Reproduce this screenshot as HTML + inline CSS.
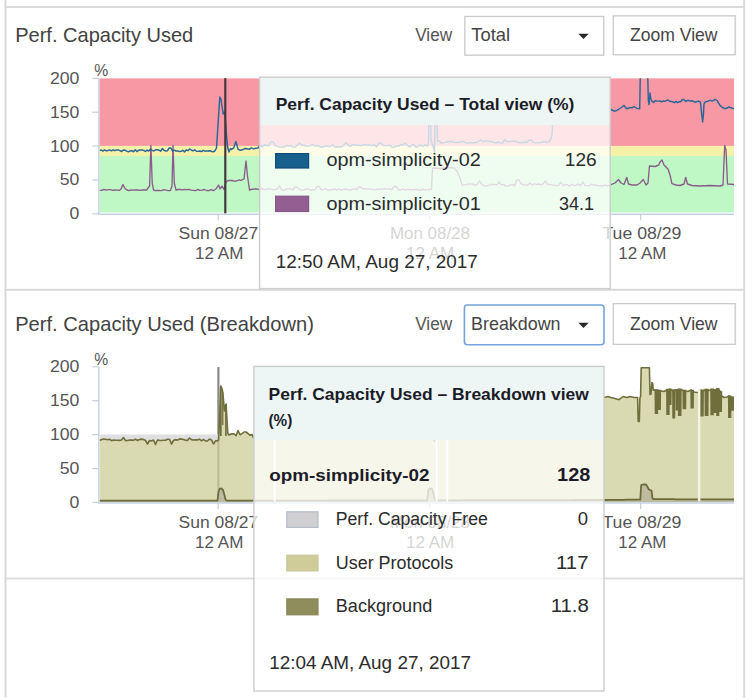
<!DOCTYPE html>
<html><head><meta charset="utf-8"><title>Perf. Capacity Used</title>
<style>
html,body{margin:0;padding:0;background:#fff;width:753px;height:700px;overflow:hidden}
svg{position:absolute;left:0;top:0;display:block}
text{font-family:"Liberation Sans",sans-serif}
</style></head><body>
<svg width="753" height="700" viewBox="0 0 753 700" xmlns="http://www.w3.org/2000/svg">
<rect x="4.50" y="0.00" width="2.00" height="697.50" fill="#dadada"/>
<rect x="743.20" y="0.00" width="2.00" height="698.00" fill="#dadada"/>
<rect x="4.50" y="6.00" width="740.50" height="2.00" fill="#dadada"/>
<rect x="4.50" y="288.80" width="740.50" height="2.00" fill="#dadada"/>
<rect x="4.50" y="577.60" width="740.50" height="1.80" fill="#dadada"/>
<rect x="99.50" y="78.40" width="634.50" height="67.55" fill="#f998a5"/>
<rect x="99.50" y="145.95" width="634.50" height="10.13" fill="#f6f1a8"/>
<rect x="99.50" y="156.08" width="634.50" height="56.32" fill="#bff7c5"/>
<clipPath id="c1"><rect x="99.5" y="78.2" width="634.5" height="136"/></clipPath>
<clipPath id="c2"><rect x="99.5" y="367" width="634.5" height="136"/></clipPath>
<polyline points="99.5,190.1 101.7,190.4 103.9,189.4 106.1,190.1 108.3,189.6 110.5,189.7 112.7,190.4 114.9,190.0 117.1,190.1 119.3,190.4 121.0,189.0 123.0,184.5 125.0,188.5 127.0,190.0 129.0,190.6 131.2,189.9 133.4,190.2 135.6,190.0 137.8,190.0 140.0,190.3 142.2,189.9 144.4,190.0 146.6,190.0 149.6,186.0 150.9,145.5 152.2,183.0 153.5,190.0 155.0,190.6 157.2,190.3 159.4,190.5 161.6,190.6 163.8,189.7 166.0,190.1 168.2,190.6 170.4,190.5 172.0,186.0 173.0,145.5 174.3,183.0 176.0,190.0 178.0,189.5 180.2,189.5 182.4,189.9 184.6,189.4 186.8,189.6 189.0,189.4 191.2,190.2 193.4,190.4 195.6,190.6 197.8,189.5 200.0,190.3 202.2,190.2 204.4,189.5 206.6,190.5 208.8,190.7 211.0,189.6 213.2,190.6 216.0,189.0 218.5,185.0 220.0,189.0 222.0,186.0 224.0,189.5 226.0,182.0 228.0,180.5 230.0,180.4 232.2,180.5 234.4,181.2 236.6,181.0 238.8,180.0 241.0,180.4 244.0,179.0 246.0,161.0 247.5,176.0 249.5,190.0 251.0,189.5 253.2,189.2 255.4,189.0 257.6,189.2 259.8,189.9 262.0,188.6 264.2,189.6 266.4,189.4 268.6,188.6 270.8,189.2 273.0,189.7 275.2,189.5 277.4,188.7 279.6,186.0 281.8,190.0 284.0,190.3 286.2,188.8 288.4,189.1 290.6,188.7 292.8,190.0 295.0,187.0 297.2,187.0 299.4,189.4 301.6,190.2 303.8,190.1 306.0,189.1 308.2,188.9 310.4,190.3 312.6,189.6 314.8,189.9 317.0,186.5 319.2,186.5 321.4,189.8 323.6,189.4 325.8,188.7 328.0,190.3 330.2,189.7 332.4,190.0 334.6,188.8 336.8,190.1 339.0,188.7 341.2,190.2 343.4,189.4 345.6,189.2 347.8,189.6 350.0,190.3 352.2,189.1 354.4,188.8 356.6,189.5 358.8,187.0 361.0,187.0 363.2,188.9 365.4,188.7 367.6,189.0 369.8,189.2 372.0,189.1 374.2,190.0 376.4,189.1 378.6,189.5 380.8,188.9 383.0,189.2 385.2,188.6 387.4,189.1 389.6,188.6 391.8,189.9 394.0,186.5 396.2,186.5 398.4,189.5 400.6,190.3 402.8,188.8 405.0,190.1 407.2,189.4 409.4,189.5 411.6,190.1 413.8,189.3 416.0,189.5 418.2,189.8 420.4,190.4 422.6,189.2 424.8,190.1 427.0,189.9 429.2,189.7 431.5,189.0 432.5,168.0 440.0,168.5 448.0,167.5 454.0,168.0 457.0,171.0 460.0,178.0 462.0,185.0 464.0,184.8 466.2,184.6 468.4,183.9 470.6,184.1 472.8,184.0 475.0,185.6 477.2,184.4 479.4,181.0 481.6,184.0 483.8,185.8 486.0,185.9 488.2,185.4 490.4,184.5 492.6,184.4 494.8,184.5 497.0,184.9 499.2,182.0 501.4,184.9 503.6,184.4 505.8,186.1 508.0,186.1 510.2,185.1 512.4,184.4 514.6,186.1 516.8,180.0 519.0,180.0 521.2,183.8 523.4,184.7 525.6,184.9 527.8,185.0 530.0,183.0 532.2,185.0 534.4,183.8 536.6,184.4 538.8,184.0 541.0,184.8 543.2,183.9 545.4,181.0 547.6,184.5 549.8,184.4 552.0,185.2 554.2,185.1 556.4,185.6 558.6,185.4 560.8,182.0 563.0,185.9 565.2,184.7 567.4,184.6 569.6,186.2 571.8,184.2 574.0,185.5 576.2,185.3 578.4,183.9 580.6,185.8 582.8,182.0 585.0,185.3 587.2,185.6 589.4,185.7 591.6,184.1 593.8,185.1 596.0,185.0 598.2,185.8 600.4,185.7 602.6,185.8 604.8,185.2 607.0,185.9 609.2,185.4 611.0,184.7 615.0,183.0 618.5,179.5 621.0,183.0 624.0,184.5 626.7,177.5 628.5,184.0 632.0,185.0 637.0,185.0 640.0,183.0 643.3,179.5 646.0,185.0 648.0,183.0 649.5,166.0 655.0,166.5 658.8,165.0 660.0,162.0 662.0,160.0 664.0,165.0 666.0,167.0 668.0,169.0 670.0,175.0 672.0,183.7 676.0,185.0 680.0,185.5 684.0,184.0 685.7,177.5 687.5,184.0 692.0,185.5 700.0,186.0 710.0,185.5 720.0,186.0 723.0,185.0 724.7,145.4 726.0,150.0 727.5,184.0 734.0,184.5" fill="none" stroke="#8a5c8c" stroke-width="1.35" stroke-linejoin="round" clip-path="url(#c1)"/>
<polyline points="99.5,150.4 101.2,150.0 102.9,151.1 104.6,149.9 106.3,150.9 108.0,150.5 109.7,149.8 111.4,150.8 113.1,149.8 114.8,150.7 116.5,149.9 118.2,149.9 119.9,150.6 121.6,151.5 123.3,150.0 125.0,150.2 126.7,151.1 128.4,151.8 130.1,151.0 131.8,150.6 133.5,151.8 135.2,149.8 136.9,151.6 138.6,150.3 140.3,150.0 142.0,150.0 143.7,150.4 145.4,151.5 147.1,150.1 148.8,151.0 150.5,149.0 152.2,150.5 153.9,150.9 155.6,149.8 157.3,149.8 159.0,150.2 160.7,151.2 162.4,148.5 164.1,150.4 165.8,151.0 167.5,150.7 169.2,148.0 170.9,148.0 172.6,151.2 174.3,150.2 176.0,151.0 177.7,150.9 179.4,151.6 181.1,151.3 182.8,150.3 184.5,151.9 186.2,150.0 187.9,150.6 189.6,149.0 191.3,150.0 193.0,150.8 194.7,149.8 196.4,151.2 198.1,151.4 199.8,151.0 201.5,151.6 203.2,150.4 204.9,151.2 206.6,151.0 208.3,151.0 210.0,150.7 211.7,151.5 213.4,151.8 215.1,150.7 216.5,148.0 218.0,125.0 219.8,97.0 221.0,99.0 222.0,106.0 223.2,114.0 224.2,112.0 225.3,118.0 226.5,135.0 227.8,148.0 229.0,152.0 230.5,148.5 231.5,149.4 233.7,147.9 235.9,141.5 238.1,149.4 240.3,150.2 242.5,149.8 244.7,148.5 246.9,148.7 249.1,149.4 251.3,147.9 253.5,148.9 255.7,148.2 257.9,148.1 260.0,144.8 262.2,146.8 264.4,145.0 266.6,145.3 268.8,145.7 271.0,142.0 273.2,142.0 275.4,145.9 277.6,146.1 279.8,147.1 282.0,146.9 284.2,147.0 286.4,145.4 288.6,145.8 290.8,145.6 293.0,147.1 295.2,147.3 297.4,145.0 299.6,143.0 301.8,145.2 304.0,145.3 306.2,146.0 308.4,146.2 310.6,145.3 312.8,144.6 315.0,145.8 317.2,145.6 319.4,146.2 321.6,147.3 323.8,146.5 326.0,146.0 328.2,146.3 330.4,146.5 332.6,144.8 334.8,147.1 337.0,146.8 339.2,147.0 341.4,146.8 343.6,145.7 345.8,142.5 348.0,144.9 350.2,146.4 352.4,144.8 354.6,144.8 356.8,145.2 359.0,145.1 361.2,145.6 363.4,144.7 365.6,144.6 367.8,145.0 370.0,144.9 372.2,145.6 374.4,144.7 376.6,147.0 378.8,143.0 381.0,143.0 383.2,145.3 385.4,145.6 387.6,145.6 389.8,144.9 392.0,147.0 394.2,147.4 396.4,145.9 398.6,146.0 400.8,144.8 403.0,144.9 405.2,143.0 407.4,145.3 409.6,146.9 411.8,145.1 414.0,144.7 416.2,147.3 418.4,146.1 420.6,145.0 422.8,146.1 425.0,144.7 427.2,146.1 428.5,144.0 429.7,70.0 431.0,140.0 433.0,146.0 434.5,152.0 436.0,70.0 437.5,141.0 440.0,141.0 441.0,143.1 443.2,142.8 445.4,142.4 447.6,141.5 449.8,141.7 452.0,141.3 454.2,142.6 456.4,142.1 458.6,142.6 460.8,141.6 463.0,141.4 465.2,142.7 467.4,143.1 469.6,142.8 471.8,142.7 474.0,142.7 476.2,142.5 478.4,141.4 480.6,140.0 482.8,141.7 485.0,141.0 487.2,141.0 489.4,141.5 491.6,141.5 493.8,142.4 496.0,143.0 498.2,141.9 500.4,143.0 502.6,143.1 504.8,139.5 507.0,141.7 509.2,141.4 511.4,141.4 513.6,141.3 515.8,141.3 518.0,142.3 520.2,142.9 522.4,142.7 524.6,142.0 526.8,142.3 529.0,140.0 531.2,140.0 533.4,142.4 535.6,142.9 537.8,142.6 540.0,142.6 542.2,142.0 544.4,141.3 546.6,142.6 548.8,141.6 550.0,141.0 552.0,135.0 553.4,110.0 556.0,108.0 557.0,108.8 559.2,109.2 561.4,107.7 563.6,107.7 565.8,109.2 568.0,108.6 570.2,107.1 572.4,107.0 574.6,107.1 576.8,109.1 579.0,108.8 581.2,107.1 583.4,108.8 585.6,109.2 587.8,108.4 590.0,107.6 592.2,108.1 594.4,107.0 596.6,106.7 598.8,109.2 601.0,108.4 603.2,108.1 605.4,109.1 607.6,107.8 609.8,109.0 611.0,109.5 613.0,110.5 615.0,111.2 617.0,110.4 619.0,109.0 620.6,108.0 622.5,106.5 624.0,105.4 625.5,107.5 626.6,108.7 628.5,108.0 630.0,107.6 632.0,107.8 634.0,106.6 635.5,107.5 637.0,108.4 639.7,108.7 640.4,70.0 647.6,70.0 648.3,100.0 649.0,104.6 650.0,93.0 650.8,99.0 652.0,101.3 653.5,102.4 655.1,100.8 656.7,101.0 658.3,101.1 659.9,100.9 661.5,101.8 663.1,101.0 664.7,101.4 666.3,100.6 667.9,100.0 669.5,101.2 671.1,101.5 672.7,101.8 674.3,102.7 675.9,101.4 677.5,102.7 679.1,101.6 680.7,101.7 682.3,99.5 683.9,99.5 685.5,101.4 687.1,100.8 688.7,100.3 690.3,101.0 691.9,100.7 693.5,101.5 695.1,102.2 696.7,101.7 698.3,101.1 699.9,101.6 700.5,103.0 701.8,115.0 702.6,122.0 703.4,115.0 704.0,104.0 705.0,102.0 707.0,101.5 710.0,100.4 712.5,101.0 715.0,99.3 717.0,100.5 720.0,105.4 722.5,107.5 725.0,108.7 727.0,108.0 729.0,107.0 731.0,107.8 734.0,108.7" fill="none" stroke="#2a6698" stroke-width="1.45" stroke-linejoin="round" clip-path="url(#c1)"/>
<rect x="98.20" y="78.40" width="1.30" height="136.40" fill="#c0d0e0"/>
<rect x="98.20" y="213.60" width="635.80" height="1.40" fill="#c0d0e0"/>
<rect x="92.30" y="213.20" width="6.70" height="1.20" fill="#c0d0e0"/>
<rect x="92.30" y="179.35" width="6.70" height="1.20" fill="#c0d0e0"/>
<rect x="92.30" y="145.50" width="6.70" height="1.20" fill="#c0d0e0"/>
<rect x="92.30" y="111.65" width="6.70" height="1.20" fill="#c0d0e0"/>
<rect x="92.30" y="77.80" width="6.70" height="1.20" fill="#c0d0e0"/>
<rect x="217.60" y="213.80" width="1.20" height="6.50" fill="#c0d0e0"/>
<rect x="428.90" y="213.80" width="1.20" height="6.50" fill="#c0d0e0"/>
<rect x="640.00" y="213.80" width="1.20" height="6.50" fill="#c0d0e0"/>
<rect x="224.20" y="78.20" width="2.20" height="135.10" fill="#45393c"/>
<rect x="217.30" y="367.00" width="2.20" height="135.50" fill="#8a8a8a"/>
<path d="M99.5,434.6 L101.5,434.6 L103.5,434.6 L105.5,434.6 L107.5,434.6 L109.5,434.6 L111.5,434.6 L113.5,434.6 L115.5,434.6 L117.5,434.6 L119.5,434.6 L121.5,434.6 L123.5,434.6 L125.5,434.6 L127.5,434.6 L129.5,434.6 L131.5,434.6 L133.5,434.6 L135.5,434.6 L137.5,434.6 L139.5,434.6 L141.5,434.6 L143.5,434.6 L145.5,434.6 L147.5,434.6 L149.5,434.6 L151.5,434.6 L153.5,434.6 L155.5,434.6 L157.5,434.6 L159.5,434.6 L161.5,434.6 L163.5,434.6 L165.5,434.6 L167.5,434.6 L169.5,434.6 L171.5,434.6 L173.5,434.6 L175.5,434.6 L177.5,434.6 L179.5,434.6 L181.5,434.6 L183.5,434.6 L185.5,434.6 L187.5,434.6 L189.5,434.6 L191.5,434.6 L193.5,434.6 L195.5,434.6 L197.5,434.6 L199.5,434.6 L201.5,434.6 L203.5,434.6 L205.5,434.6 L207.5,434.6 L209.5,434.6 L211.5,434.6 L213.5,434.6 L215.5,434.6 L217.0,434.6 L218.5,434.6 L219.5,434.6 L220.8,434.6 L221.8,434.6 L222.7,434.6 L223.5,434.6 L224.4,434.6 L225.3,434.6 L226.1,434.6 L227.0,434.6 L227.8,434.6 L229.0,434.6 L230.0,434.6 L232.0,434.6 L234.0,434.6 L236.0,434.6 L238.0,434.6 L240.0,434.6 L242.0,434.6 L244.0,434.6 L246.0,434.6 L248.0,434.6 L250.0,434.6 L252.0,434.6 L253.5,434.6 L255.7,434.6 L257.9,434.6 L260.0,434.6 L262.2,434.6 L264.4,434.6 L266.6,434.6 L268.8,434.6 L271.0,434.6 L273.2,434.6 L275.4,434.6 L277.6,434.6 L279.8,434.6 L282.0,434.6 L284.2,434.6 L286.4,434.6 L288.6,434.6 L290.8,434.6 L293.0,434.6 L295.2,434.6 L297.4,434.6 L299.6,434.6 L301.8,434.6 L304.0,434.6 L306.2,434.6 L308.4,434.6 L310.6,434.6 L312.8,434.6 L315.0,434.6 L317.2,434.6 L319.4,434.6 L321.6,434.6 L323.8,434.6 L326.0,434.6 L328.2,434.6 L330.4,434.6 L332.6,434.6 L334.8,434.6 L337.0,434.6 L339.2,434.6 L341.4,434.6 L343.6,434.6 L345.8,434.6 L348.0,434.6 L350.2,434.6 L352.4,434.6 L354.6,434.6 L356.8,434.6 L359.0,434.6 L361.2,434.6 L363.4,434.6 L365.6,434.6 L367.8,434.6 L370.0,434.6 L372.2,434.6 L374.4,434.6 L376.6,434.6 L378.8,434.6 L381.0,434.6 L383.2,434.6 L385.4,434.6 L387.6,434.6 L389.8,434.6 L392.0,434.6 L394.2,434.6 L396.4,434.6 L398.6,434.6 L400.8,434.6 L403.0,434.6 L405.2,434.6 L407.4,434.6 L409.6,434.6 L411.8,434.6 L414.0,434.6 L416.2,434.6 L418.4,434.6 L420.6,434.6 L422.8,434.6 L425.0,434.6 L427.2,434.6 L428.5,434.6 L429.7,434.6 L431.0,434.6 L433.0,434.6 L434.5,434.6 L436.0,434.6 L437.5,434.6 L440.0,434.6 L441.0,434.6 L443.2,434.6 L445.4,434.6 L447.6,434.6 L449.8,434.6 L452.0,434.6 L454.2,434.6 L456.4,434.6 L458.6,434.6 L460.8,434.6 L463.0,434.6 L465.2,434.6 L467.4,434.6 L469.6,434.6 L471.8,434.6 L474.0,434.6 L476.2,434.6 L478.4,434.6 L480.6,434.6 L482.8,434.6 L485.0,434.6 L487.2,434.6 L489.4,434.6 L491.6,434.6 L493.8,434.6 L496.0,434.6 L498.2,434.6 L500.4,434.6 L502.6,434.6 L504.8,434.6 L507.0,434.6 L509.2,434.6 L511.4,434.6 L513.6,434.6 L515.8,434.6 L518.0,434.6 L520.2,434.6 L522.4,434.6 L524.6,434.6 L526.8,434.6 L529.0,434.6 L531.2,434.6 L533.4,434.6 L535.6,434.6 L537.8,434.6 L540.0,434.6 L542.2,434.6 L544.4,434.6 L546.6,434.6 L548.8,434.6 L550.0,434.6 L552.0,434.6 L553.4,434.6 L556.0,434.6 L557.0,434.6 L559.2,434.6 L561.4,434.6 L563.6,434.6 L565.8,434.6 L568.0,434.6 L570.2,434.6 L572.4,434.6 L574.6,434.6 L576.8,434.6 L579.0,434.6 L581.2,434.6 L583.4,434.6 L585.6,434.6 L587.8,434.6 L590.0,434.6 L592.2,434.6 L594.4,434.6 L596.6,434.6 L598.8,434.6 L601.0,434.6 L603.2,434.6 L604.3,434.6 L608.0,434.6 L611.0,434.6 L615.0,434.6 L619.0,434.6 L623.0,434.6 L627.0,434.6 L630.0,434.6 L634.0,434.6 L637.6,434.6 L638.2,434.6 L639.3,434.6 L639.9,434.6 L640.6,434.6 L641.2,434.6 L649.4,434.6 L650.0,434.6 L651.0,434.6 L651.9,434.6 L652.8,434.6 L653.3,434.6 L655.0,434.6 L658.0,434.6 L661.0,434.6 L664.0,434.6 L667.0,434.6 L670.0,434.6 L673.0,434.6 L676.0,434.6 L679.0,434.6 L682.0,434.6 L685.0,434.6 L688.0,434.6 L691.0,434.6 L694.0,434.6 L697.0,434.6 L698.3,434.6 L700.0,434.6 L703.0,434.6 L706.0,434.6 L709.0,434.6 L712.0,434.6 L715.0,434.6 L718.0,434.6 L720.0,434.6 L721.7,434.6 L724.0,434.6 L727.0,434.6 L729.0,434.6 L731.0,434.6 L734.0,434.6 L734.0,434.6 L731.0,434.6 L729.0,434.6 L727.0,434.6 L724.0,434.6 L721.7,434.6 L720.0,434.6 L718.0,434.6 L715.0,434.6 L712.0,434.6 L709.0,434.6 L706.0,434.6 L703.0,434.6 L700.0,434.6 L698.3,434.6 L697.0,434.6 L694.0,434.6 L691.0,434.6 L688.0,434.6 L685.0,434.6 L682.0,434.6 L679.0,434.6 L676.0,434.6 L673.0,434.6 L670.0,434.6 L667.0,434.6 L664.0,434.6 L661.0,434.6 L658.0,434.6 L655.0,434.6 L653.3,434.6 L652.8,434.6 L651.9,434.6 L651.0,434.6 L650.0,434.6 L649.4,434.6 L641.2,434.6 L640.6,434.6 L639.9,434.6 L639.3,434.6 L638.2,434.6 L637.6,434.6 L634.0,434.6 L630.0,434.6 L627.0,434.6 L623.0,434.6 L619.0,434.6 L615.0,434.6 L611.0,434.6 L608.0,434.6 L604.3,434.6 L603.2,434.6 L601.0,434.6 L598.8,434.6 L596.6,434.6 L594.4,434.6 L592.2,434.6 L590.0,434.6 L587.8,434.6 L585.6,434.6 L583.4,434.6 L581.2,434.6 L579.0,434.6 L576.8,434.6 L574.6,434.6 L572.4,434.6 L570.2,434.6 L568.0,434.6 L565.8,434.6 L563.6,434.6 L561.4,434.6 L559.2,434.6 L557.0,434.6 L556.0,434.6 L553.4,434.6 L552.0,434.6 L550.0,434.6 L548.8,434.6 L546.6,434.6 L544.4,434.6 L542.2,434.6 L540.0,434.6 L537.8,434.6 L535.6,434.6 L533.4,434.6 L531.2,434.6 L529.0,434.6 L526.8,434.6 L524.6,434.6 L522.4,434.6 L520.2,434.6 L518.0,434.6 L515.8,434.6 L513.6,434.6 L511.4,434.6 L509.2,434.6 L507.0,434.6 L504.8,434.6 L502.6,434.6 L500.4,434.6 L498.2,434.6 L496.0,434.6 L493.8,434.6 L491.6,434.6 L489.4,434.6 L487.2,434.6 L485.0,434.6 L482.8,434.6 L480.6,434.6 L478.4,434.6 L476.2,434.6 L474.0,434.6 L471.8,434.6 L469.6,434.6 L467.4,434.6 L465.2,434.6 L463.0,434.6 L460.8,434.6 L458.6,434.6 L456.4,434.6 L454.2,434.6 L452.0,434.6 L449.8,434.6 L447.6,434.6 L445.4,434.6 L443.2,434.6 L441.0,434.6 L440.0,434.6 L437.5,434.6 L436.0,434.6 L434.5,441.0 L433.0,435.0 L431.0,434.6 L429.7,434.6 L428.5,434.6 L427.2,435.1 L425.0,434.6 L422.8,435.1 L420.6,434.6 L418.4,435.1 L416.2,436.3 L414.0,434.6 L411.8,434.6 L409.6,435.9 L407.4,434.6 L405.2,434.6 L403.0,434.6 L400.8,434.6 L398.6,435.0 L396.4,434.9 L394.2,436.4 L392.0,436.0 L389.8,434.6 L387.6,434.6 L385.4,434.6 L383.2,434.6 L381.0,434.6 L378.8,434.6 L376.6,436.0 L374.4,434.6 L372.2,434.6 L370.0,434.6 L367.8,434.6 L365.6,434.6 L363.4,434.6 L361.2,434.6 L359.0,434.6 L356.8,434.6 L354.6,434.6 L352.4,434.6 L350.2,435.4 L348.0,434.6 L345.8,434.6 L343.6,434.7 L341.4,435.8 L339.2,436.0 L337.0,435.8 L334.8,436.1 L332.6,434.6 L330.4,435.5 L328.2,435.3 L326.0,435.0 L323.8,435.5 L321.6,436.3 L319.4,435.2 L317.2,434.6 L315.0,434.8 L312.8,434.6 L310.6,434.6 L308.4,435.2 L306.2,435.0 L304.0,434.6 L301.8,434.6 L299.6,434.6 L297.4,434.6 L295.2,436.3 L293.0,436.1 L290.8,434.6 L288.6,434.8 L286.4,434.6 L284.2,436.0 L282.0,435.9 L279.8,436.1 L277.6,435.1 L275.4,434.9 L273.2,434.6 L271.0,434.6 L268.8,434.7 L266.6,434.6 L264.4,434.6 L262.2,435.8 L260.0,434.6 L257.9,437.1 L255.7,437.2 L253.5,437.9 L252.0,434.6 L250.0,435.3 L248.0,434.6 L246.0,434.6 L244.0,434.6 L242.0,434.6 L240.0,434.7 L238.0,434.6 L236.0,435.7 L234.0,434.6 L232.0,434.6 L230.0,434.6 L229.0,435.0 L227.8,434.6 L227.0,434.6 L226.1,434.6 L225.3,434.6 L224.4,434.6 L223.5,434.6 L222.7,434.6 L221.8,434.6 L220.8,434.6 L219.5,434.6 L218.5,440.0 L217.0,441.0 L215.5,440.9 L213.5,444.0 L211.5,439.9 L209.5,439.0 L207.5,440.9 L205.5,441.0 L203.5,439.4 L201.5,440.8 L199.5,439.2 L197.5,439.9 L195.5,439.9 L193.5,440.0 L191.5,439.6 L189.5,438.0 L187.5,440.4 L185.5,440.3 L183.5,439.5 L181.5,439.1 L179.5,439.0 L177.5,440.1 L175.5,439.6 L173.5,440.5 L171.5,444.0 L169.5,439.3 L167.5,439.2 L165.5,440.3 L163.5,440.2 L161.5,440.5 L159.5,440.4 L157.5,440.0 L155.5,444.5 L153.5,440.0 L151.5,441.0 L149.5,440.5 L147.5,444.0 L145.5,440.5 L143.5,439.5 L141.5,439.1 L139.5,439.5 L137.5,440.5 L135.5,439.1 L133.5,440.3 L131.5,440.1 L129.5,440.0 L127.5,440.5 L125.5,440.6 L123.5,437.5 L121.5,440.0 L119.5,440.4 L117.5,440.3 L115.5,440.3 L113.5,440.1 L111.5,440.7 L109.5,439.2 L107.5,439.7 L105.5,439.3 L103.5,439.1 L101.5,439.5 L99.5,440.4Z" fill="#dfdfe1" stroke="none" stroke-width="1" clip-path="url(#c2)"/>
<path d="M99.5,440.4 L101.5,439.5 L103.5,439.1 L105.5,439.3 L107.5,439.7 L109.5,439.2 L111.5,440.7 L113.5,440.1 L115.5,440.3 L117.5,440.3 L119.5,440.4 L121.5,440.0 L123.5,437.5 L125.5,440.6 L127.5,440.5 L129.5,440.0 L131.5,440.1 L133.5,440.3 L135.5,439.1 L137.5,440.5 L139.5,439.5 L141.5,439.1 L143.5,439.5 L145.5,440.5 L147.5,444.0 L149.5,440.5 L151.5,441.0 L153.5,440.0 L155.5,444.5 L157.5,440.0 L159.5,440.4 L161.5,440.5 L163.5,440.2 L165.5,440.3 L167.5,439.2 L169.5,439.3 L171.5,444.0 L173.5,440.5 L175.5,439.6 L177.5,440.1 L179.5,439.0 L181.5,439.1 L183.5,439.5 L185.5,440.3 L187.5,440.4 L189.5,438.0 L191.5,439.6 L193.5,440.0 L195.5,439.9 L197.5,439.9 L199.5,439.2 L201.5,440.8 L203.5,439.4 L205.5,441.0 L207.5,440.9 L209.5,439.0 L211.5,439.9 L213.5,444.0 L215.5,440.9 L217.0,441.0 L218.5,440.0 L219.5,420.0 L220.8,386.0 L221.8,388.0 L222.7,392.0 L223.5,400.0 L224.4,411.0 L225.3,406.0 L226.1,404.0 L227.0,420.0 L227.8,433.5 L229.0,435.0 L230.0,434.4 L232.0,433.9 L234.0,433.7 L236.0,435.7 L238.0,430.6 L240.0,434.7 L242.0,433.6 L244.0,432.0 L246.0,432.0 L248.0,433.5 L250.0,435.3 L252.0,434.5 L253.5,437.9 L255.7,437.2 L257.9,437.1 L260.0,433.8 L262.2,435.8 L264.4,434.0 L266.6,434.3 L268.8,434.7 L271.0,431.0 L273.2,431.0 L275.4,434.9 L277.6,435.1 L279.8,436.1 L282.0,435.9 L284.2,436.0 L286.4,434.4 L288.6,434.8 L290.8,434.6 L293.0,436.1 L295.2,436.3 L297.4,434.0 L299.6,432.0 L301.8,434.2 L304.0,434.3 L306.2,435.0 L308.4,435.2 L310.6,434.3 L312.8,433.6 L315.0,434.8 L317.2,434.6 L319.4,435.2 L321.6,436.3 L323.8,435.5 L326.0,435.0 L328.2,435.3 L330.4,435.5 L332.6,433.8 L334.8,436.1 L337.0,435.8 L339.2,436.0 L341.4,435.8 L343.6,434.7 L345.8,431.5 L348.0,433.9 L350.2,435.4 L352.4,433.8 L354.6,433.8 L356.8,434.2 L359.0,434.1 L361.2,434.6 L363.4,433.7 L365.6,433.6 L367.8,434.0 L370.0,433.9 L372.2,434.6 L374.4,433.7 L376.6,436.0 L378.8,432.0 L381.0,432.0 L383.2,434.3 L385.4,434.6 L387.6,434.6 L389.8,433.9 L392.0,436.0 L394.2,436.4 L396.4,434.9 L398.6,435.0 L400.8,433.8 L403.0,433.9 L405.2,432.0 L407.4,434.3 L409.6,435.9 L411.8,434.1 L414.0,433.7 L416.2,436.3 L418.4,435.1 L420.6,434.0 L422.8,435.1 L425.0,433.7 L427.2,435.1 L428.5,433.0 L429.7,367.5 L431.0,429.0 L433.0,435.0 L434.5,441.0 L436.0,367.5 L437.5,430.0 L440.0,430.0 L441.0,432.1 L443.2,431.8 L445.4,431.4 L447.6,430.5 L449.8,430.7 L452.0,430.3 L454.2,431.6 L456.4,431.1 L458.6,431.6 L460.8,430.6 L463.0,430.4 L465.2,431.7 L467.4,432.1 L469.6,431.8 L471.8,431.7 L474.0,431.7 L476.2,431.5 L478.4,430.4 L480.6,429.0 L482.8,430.7 L485.0,430.0 L487.2,430.0 L489.4,430.5 L491.6,430.5 L493.8,431.4 L496.0,432.0 L498.2,430.9 L500.4,432.0 L502.6,432.1 L504.8,428.5 L507.0,430.7 L509.2,430.4 L511.4,430.4 L513.6,430.3 L515.8,430.3 L518.0,431.3 L520.2,431.9 L522.4,431.7 L524.6,431.0 L526.8,431.3 L529.0,429.0 L531.2,429.0 L533.4,431.4 L535.6,431.9 L537.8,431.6 L540.0,431.6 L542.2,431.0 L544.4,430.3 L546.6,431.6 L548.8,430.6 L550.0,430.0 L552.0,424.0 L553.4,399.0 L556.0,397.0 L557.0,397.8 L559.2,398.2 L561.4,396.7 L563.6,396.7 L565.8,398.2 L568.0,397.6 L570.2,396.1 L572.4,396.0 L574.6,396.1 L576.8,398.1 L579.0,397.8 L581.2,396.1 L583.4,397.8 L585.6,398.2 L587.8,397.4 L590.0,396.6 L592.2,397.1 L594.4,396.0 L596.6,395.7 L598.8,398.2 L601.0,397.4 L603.2,397.1 L604.3,397.5 L608.0,396.5 L611.0,397.5 L615.0,398.5 L619.0,399.7 L623.0,396.5 L627.0,397.5 L630.0,396.5 L634.0,397.5 L637.6,397.5 L638.2,421.5 L639.3,421.5 L639.9,398.0 L640.6,396.5 L641.2,367.8 L649.4,367.8 L650.0,394.5 L651.0,394.0 L651.9,382.5 L652.8,384.0 L653.3,390.3 L655.0,390.0 L658.0,390.5 L661.0,391.0 L664.0,391.5 L667.0,390.0 L670.0,389.5 L673.0,390.5 L676.0,390.0 L679.0,389.5 L682.0,390.0 L685.0,391.0 L688.0,391.5 L691.0,390.0 L694.0,392.0 L697.0,392.5 L698.3,392.5 L700.0,390.0 L703.0,391.0 L706.0,389.5 L709.0,390.5 L712.0,389.5 L715.0,390.0 L718.0,389.0 L720.0,391.0 L721.7,396.0 L724.0,397.5 L727.0,397.0 L729.0,396.0 L731.0,397.0 L734.0,398.0 L734.0,499.4 L731.0,499.4 L729.0,499.4 L727.0,499.4 L724.0,499.4 L721.7,499.4 L720.0,499.4 L718.0,499.4 L715.0,499.4 L712.0,499.3 L709.0,499.3 L706.0,499.3 L703.0,499.3 L700.0,499.3 L698.3,499.3 L697.0,499.3 L694.0,499.3 L691.0,499.3 L688.0,499.3 L685.0,499.3 L682.0,499.3 L679.0,499.3 L676.0,499.3 L673.0,499.2 L670.0,499.2 L667.0,499.2 L664.0,499.2 L661.0,499.2 L658.0,499.2 L655.0,499.2 L654.0,499.2 L653.3,498.8 L652.8,498.6 L652.5,498.4 L651.9,493.7 L651.5,490.5 L651.0,490.3 L650.0,490.0 L649.4,489.7 L649.0,489.6 L647.0,486.0 L646.0,484.5 L643.0,484.5 L641.2,485.0 L640.6,494.7 L640.3,499.6 L639.9,499.6 L639.3,499.6 L638.2,499.6 L637.6,499.6 L634.0,499.7 L630.0,499.7 L627.0,499.7 L623.0,499.8 L619.0,499.8 L615.0,499.9 L611.0,499.9 L608.0,499.9 L604.3,500.0 L603.2,500.0 L601.0,500.0 L598.8,500.0 L596.6,500.0 L594.4,500.0 L592.2,500.0 L590.0,500.0 L587.8,500.0 L585.6,500.0 L583.4,500.0 L581.2,500.0 L579.0,500.0 L576.8,500.0 L574.6,500.0 L572.4,500.1 L570.2,500.1 L568.0,500.1 L565.8,500.1 L563.6,500.1 L561.4,500.1 L559.2,500.1 L557.0,500.1 L556.0,500.1 L553.4,500.1 L552.0,500.1 L550.0,500.1 L548.8,500.1 L546.6,500.1 L544.4,500.1 L542.2,500.1 L540.0,500.1 L537.8,500.1 L535.6,500.1 L533.4,500.1 L531.2,500.1 L529.0,500.1 L526.8,500.1 L524.6,500.1 L522.4,500.1 L520.2,500.1 L518.0,500.1 L515.8,500.2 L513.6,500.2 L511.4,500.2 L509.2,500.2 L507.0,500.2 L504.8,500.2 L502.6,500.2 L500.4,500.2 L498.2,500.2 L496.0,500.2 L493.8,500.2 L491.6,500.2 L489.4,500.2 L487.2,500.2 L485.0,500.2 L482.8,500.2 L480.6,500.2 L478.4,500.2 L476.2,500.2 L474.0,500.2 L471.8,500.2 L469.6,500.2 L467.4,500.2 L465.2,500.2 L463.0,500.2 L460.8,500.3 L458.6,500.3 L456.4,500.3 L454.2,500.3 L452.0,500.3 L449.8,500.3 L447.6,500.3 L445.4,500.3 L443.2,500.3 L441.0,500.3 L440.0,500.3 L437.5,500.3 L436.0,500.3 L435.0,500.3 L434.5,498.2 L433.5,494.0 L433.0,492.3 L432.0,489.0 L431.0,488.8 L430.0,488.5 L429.7,488.8 L428.5,490.0 L427.2,499.1 L427.0,500.5 L425.0,500.5 L422.8,500.5 L420.6,500.5 L418.4,500.5 L416.2,500.5 L414.0,500.5 L411.8,500.5 L409.6,500.5 L407.4,500.5 L405.2,500.5 L403.0,500.5 L400.8,500.5 L398.6,500.5 L396.4,500.5 L394.2,500.5 L392.0,500.5 L389.8,500.5 L387.6,500.5 L385.4,500.5 L383.2,500.5 L381.0,500.5 L378.8,500.5 L376.6,500.5 L374.4,500.5 L372.2,500.5 L370.0,500.5 L367.8,500.5 L365.6,500.5 L363.4,500.5 L361.2,500.5 L359.0,500.5 L356.8,500.5 L354.6,500.5 L352.4,500.5 L350.2,500.5 L348.0,500.5 L345.8,500.5 L343.6,500.5 L341.4,500.5 L339.2,500.5 L337.0,500.5 L334.8,500.5 L332.6,500.5 L330.4,500.5 L328.2,500.5 L326.0,500.6 L323.8,500.6 L321.6,500.6 L319.4,500.6 L317.2,500.6 L315.0,500.6 L312.8,500.6 L310.6,500.6 L308.4,500.6 L306.2,500.6 L304.0,500.6 L301.8,500.6 L299.6,500.6 L297.4,500.6 L295.2,500.6 L293.0,500.6 L290.8,500.6 L288.6,500.6 L286.4,500.6 L284.2,500.6 L282.0,500.6 L279.8,500.6 L277.6,500.6 L275.4,500.6 L273.2,500.6 L271.0,500.6 L268.8,500.6 L266.6,500.6 L264.4,500.6 L262.2,500.6 L260.0,500.6 L257.9,500.6 L255.7,500.6 L253.5,500.6 L252.0,500.6 L250.0,500.6 L248.0,500.6 L246.0,500.6 L244.0,500.6 L242.0,500.6 L240.0,500.6 L238.0,500.6 L236.0,500.6 L234.0,500.6 L232.0,500.6 L230.0,500.6 L229.0,500.6 L227.8,500.6 L227.0,500.6 L226.7,500.6 L226.1,500.1 L225.5,499.5 L225.3,498.6 L224.5,495.0 L224.4,494.7 L223.5,491.7 L223.0,490.0 L222.7,489.7 L221.8,488.8 L221.5,488.5 L220.8,488.6 L219.8,488.7 L219.5,489.5 L218.5,492.0 L217.5,500.6 L217.0,500.6 L215.5,500.6 L213.5,500.6 L211.5,500.6 L209.5,500.6 L207.5,500.6 L205.5,500.6 L203.5,500.6 L201.5,500.6 L199.5,500.6 L197.5,500.6 L195.5,500.6 L193.5,500.6 L191.5,500.6 L189.5,500.6 L187.5,500.6 L185.5,500.6 L183.5,500.6 L181.5,500.6 L179.5,500.6 L177.5,500.6 L175.5,500.6 L173.5,500.6 L171.5,500.6 L169.5,500.6 L167.5,500.6 L165.5,500.6 L163.5,500.6 L161.5,500.6 L159.5,500.6 L157.5,500.6 L155.5,500.6 L153.5,500.6 L151.5,500.6 L149.5,500.6 L147.5,500.6 L145.5,500.6 L143.5,500.6 L141.5,500.6 L139.5,500.6 L137.5,500.6 L135.5,500.6 L133.5,500.6 L131.5,500.6 L129.5,500.6 L127.5,500.6 L125.5,500.6 L123.5,500.6 L121.5,500.6 L119.5,500.6 L117.5,500.6 L115.5,500.6 L113.5,500.6 L111.5,500.6 L109.5,500.6 L107.5,500.6 L105.5,500.6 L103.5,500.6 L101.5,500.6 L99.5,500.6Z" fill="#ccce97" stroke="none" stroke-width="1" fill-opacity="0.75" clip-path="url(#c2)"/>
<path d="M99.5,500.6 L101.5,500.6 L103.5,500.6 L105.5,500.6 L107.5,500.6 L109.5,500.6 L111.5,500.6 L113.5,500.6 L115.5,500.6 L117.5,500.6 L119.5,500.6 L121.5,500.6 L123.5,500.6 L125.5,500.6 L127.5,500.6 L129.5,500.6 L131.5,500.6 L133.5,500.6 L135.5,500.6 L137.5,500.6 L139.5,500.6 L141.5,500.6 L143.5,500.6 L145.5,500.6 L147.5,500.6 L149.5,500.6 L151.5,500.6 L153.5,500.6 L155.5,500.6 L157.5,500.6 L159.5,500.6 L161.5,500.6 L163.5,500.6 L165.5,500.6 L167.5,500.6 L169.5,500.6 L171.5,500.6 L173.5,500.6 L175.5,500.6 L177.5,500.6 L179.5,500.6 L181.5,500.6 L183.5,500.6 L185.5,500.6 L187.5,500.6 L189.5,500.6 L191.5,500.6 L193.5,500.6 L195.5,500.6 L197.5,500.6 L199.5,500.6 L201.5,500.6 L203.5,500.6 L205.5,500.6 L207.5,500.6 L209.5,500.6 L211.5,500.6 L213.5,500.6 L215.5,500.6 L217.0,500.6 L217.5,500.6 L218.5,492.0 L219.5,489.5 L219.8,488.7 L220.8,488.6 L221.5,488.5 L221.8,488.8 L222.7,489.7 L223.0,490.0 L223.5,491.7 L224.4,494.7 L224.5,495.0 L225.3,498.6 L225.5,499.5 L226.1,500.1 L226.7,500.6 L227.0,500.6 L227.8,500.6 L229.0,500.6 L230.0,500.6 L232.0,500.6 L234.0,500.6 L236.0,500.6 L238.0,500.6 L240.0,500.6 L242.0,500.6 L244.0,500.6 L246.0,500.6 L248.0,500.6 L250.0,500.6 L252.0,500.6 L253.5,500.6 L255.7,500.6 L257.9,500.6 L260.0,500.6 L262.2,500.6 L264.4,500.6 L266.6,500.6 L268.8,500.6 L271.0,500.6 L273.2,500.6 L275.4,500.6 L277.6,500.6 L279.8,500.6 L282.0,500.6 L284.2,500.6 L286.4,500.6 L288.6,500.6 L290.8,500.6 L293.0,500.6 L295.2,500.6 L297.4,500.6 L299.6,500.6 L301.8,500.6 L304.0,500.6 L306.2,500.6 L308.4,500.6 L310.6,500.6 L312.8,500.6 L315.0,500.6 L317.2,500.6 L319.4,500.6 L321.6,500.6 L323.8,500.6 L326.0,500.6 L328.2,500.5 L330.4,500.5 L332.6,500.5 L334.8,500.5 L337.0,500.5 L339.2,500.5 L341.4,500.5 L343.6,500.5 L345.8,500.5 L348.0,500.5 L350.2,500.5 L352.4,500.5 L354.6,500.5 L356.8,500.5 L359.0,500.5 L361.2,500.5 L363.4,500.5 L365.6,500.5 L367.8,500.5 L370.0,500.5 L372.2,500.5 L374.4,500.5 L376.6,500.5 L378.8,500.5 L381.0,500.5 L383.2,500.5 L385.4,500.5 L387.6,500.5 L389.8,500.5 L392.0,500.5 L394.2,500.5 L396.4,500.5 L398.6,500.5 L400.8,500.5 L403.0,500.5 L405.2,500.5 L407.4,500.5 L409.6,500.5 L411.8,500.5 L414.0,500.5 L416.2,500.5 L418.4,500.5 L420.6,500.5 L422.8,500.5 L425.0,500.5 L427.0,500.5 L427.2,499.1 L428.5,490.0 L429.7,488.8 L430.0,488.5 L431.0,488.8 L432.0,489.0 L433.0,492.3 L433.5,494.0 L434.5,498.2 L435.0,500.3 L436.0,500.3 L437.5,500.3 L440.0,500.3 L441.0,500.3 L443.2,500.3 L445.4,500.3 L447.6,500.3 L449.8,500.3 L452.0,500.3 L454.2,500.3 L456.4,500.3 L458.6,500.3 L460.8,500.3 L463.0,500.2 L465.2,500.2 L467.4,500.2 L469.6,500.2 L471.8,500.2 L474.0,500.2 L476.2,500.2 L478.4,500.2 L480.6,500.2 L482.8,500.2 L485.0,500.2 L487.2,500.2 L489.4,500.2 L491.6,500.2 L493.8,500.2 L496.0,500.2 L498.2,500.2 L500.4,500.2 L502.6,500.2 L504.8,500.2 L507.0,500.2 L509.2,500.2 L511.4,500.2 L513.6,500.2 L515.8,500.2 L518.0,500.1 L520.2,500.1 L522.4,500.1 L524.6,500.1 L526.8,500.1 L529.0,500.1 L531.2,500.1 L533.4,500.1 L535.6,500.1 L537.8,500.1 L540.0,500.1 L542.2,500.1 L544.4,500.1 L546.6,500.1 L548.8,500.1 L550.0,500.1 L552.0,500.1 L553.4,500.1 L556.0,500.1 L557.0,500.1 L559.2,500.1 L561.4,500.1 L563.6,500.1 L565.8,500.1 L568.0,500.1 L570.2,500.1 L572.4,500.1 L574.6,500.0 L576.8,500.0 L579.0,500.0 L581.2,500.0 L583.4,500.0 L585.6,500.0 L587.8,500.0 L590.0,500.0 L592.2,500.0 L594.4,500.0 L596.6,500.0 L598.8,500.0 L601.0,500.0 L603.2,500.0 L604.3,500.0 L608.0,499.9 L611.0,499.9 L615.0,499.9 L619.0,499.8 L623.0,499.8 L627.0,499.7 L630.0,499.7 L634.0,499.7 L637.6,499.6 L638.2,499.6 L639.3,499.6 L639.9,499.6 L640.3,499.6 L640.6,494.7 L641.2,485.0 L643.0,484.5 L646.0,484.5 L647.0,486.0 L649.0,489.6 L649.4,489.7 L650.0,490.0 L651.0,490.3 L651.5,490.5 L651.9,493.7 L652.5,498.4 L652.8,498.6 L653.3,498.8 L654.0,499.2 L655.0,499.2 L658.0,499.2 L661.0,499.2 L664.0,499.2 L667.0,499.2 L670.0,499.2 L673.0,499.2 L676.0,499.3 L679.0,499.3 L682.0,499.3 L685.0,499.3 L688.0,499.3 L691.0,499.3 L694.0,499.3 L697.0,499.3 L698.3,499.3 L700.0,499.3 L703.0,499.3 L706.0,499.3 L709.0,499.3 L712.0,499.3 L715.0,499.4 L718.0,499.4 L720.0,499.4 L721.7,499.4 L724.0,499.4 L727.0,499.4 L729.0,499.4 L731.0,499.4 L734.0,499.4 L734.0,502.3 L99.5,502.3Z" fill="#bdbba0" stroke="none" stroke-width="1" clip-path="url(#c2)"/>
<polyline points="" fill="none" stroke="#c8cdd3" stroke-width="1" stroke-linejoin="round"/>
<polyline points="99.5,440.4 101.5,439.5 103.5,439.1 105.5,439.3 107.5,439.7 109.5,439.2 111.5,440.7 113.5,440.1 115.5,440.3 117.5,440.3 119.5,440.4 121.5,440.0 123.5,437.5 125.5,440.6 127.5,440.5 129.5,440.0 131.5,440.1 133.5,440.3 135.5,439.1 137.5,440.5 139.5,439.5 141.5,439.1 143.5,439.5 145.5,440.5 147.5,444.0 149.5,440.5 151.5,441.0 153.5,440.0 155.5,444.5 157.5,440.0 159.5,440.4 161.5,440.5 163.5,440.2 165.5,440.3 167.5,439.2 169.5,439.3 171.5,444.0 173.5,440.5 175.5,439.6 177.5,440.1 179.5,439.0 181.5,439.1 183.5,439.5 185.5,440.3 187.5,440.4 189.5,438.0 191.5,439.6 193.5,440.0 195.5,439.9 197.5,439.9 199.5,439.2 201.5,440.8 203.5,439.4 205.5,441.0 207.5,440.9 209.5,439.0 211.5,439.9 213.5,444.0 215.5,440.9 217.0,441.0 218.5,440.0 219.5,420.0 220.8,386.0 221.8,388.0 222.7,392.0 223.5,400.0 224.4,411.0 225.3,406.0 226.1,404.0 227.0,420.0 227.8,433.5 229.0,435.0 230.0,434.4 232.0,433.9 234.0,433.7 236.0,435.7 238.0,430.6 240.0,434.7 242.0,433.6 244.0,432.0 246.0,432.0 248.0,433.5 250.0,435.3 252.0,434.5 253.5,437.9 255.7,437.2 257.9,437.1 260.0,433.8 262.2,435.8 264.4,434.0 266.6,434.3 268.8,434.7 271.0,431.0 273.2,431.0 275.4,434.9 277.6,435.1 279.8,436.1 282.0,435.9 284.2,436.0 286.4,434.4 288.6,434.8 290.8,434.6 293.0,436.1 295.2,436.3 297.4,434.0 299.6,432.0 301.8,434.2 304.0,434.3 306.2,435.0 308.4,435.2 310.6,434.3 312.8,433.6 315.0,434.8 317.2,434.6 319.4,435.2 321.6,436.3 323.8,435.5 326.0,435.0 328.2,435.3 330.4,435.5 332.6,433.8 334.8,436.1 337.0,435.8 339.2,436.0 341.4,435.8 343.6,434.7 345.8,431.5 348.0,433.9 350.2,435.4 352.4,433.8 354.6,433.8 356.8,434.2 359.0,434.1 361.2,434.6 363.4,433.7 365.6,433.6 367.8,434.0 370.0,433.9 372.2,434.6 374.4,433.7 376.6,436.0 378.8,432.0 381.0,432.0 383.2,434.3 385.4,434.6 387.6,434.6 389.8,433.9 392.0,436.0 394.2,436.4 396.4,434.9 398.6,435.0 400.8,433.8 403.0,433.9 405.2,432.0 407.4,434.3 409.6,435.9 411.8,434.1 414.0,433.7 416.2,436.3 418.4,435.1 420.6,434.0 422.8,435.1 425.0,433.7 427.2,435.1 428.5,433.0 429.7,367.5 431.0,429.0 433.0,435.0 434.5,441.0 436.0,367.5 437.5,430.0 440.0,430.0 441.0,432.1 443.2,431.8 445.4,431.4 447.6,430.5 449.8,430.7 452.0,430.3 454.2,431.6 456.4,431.1 458.6,431.6 460.8,430.6 463.0,430.4 465.2,431.7 467.4,432.1 469.6,431.8 471.8,431.7 474.0,431.7 476.2,431.5 478.4,430.4 480.6,429.0 482.8,430.7 485.0,430.0 487.2,430.0 489.4,430.5 491.6,430.5 493.8,431.4 496.0,432.0 498.2,430.9 500.4,432.0 502.6,432.1 504.8,428.5 507.0,430.7 509.2,430.4 511.4,430.4 513.6,430.3 515.8,430.3 518.0,431.3 520.2,431.9 522.4,431.7 524.6,431.0 526.8,431.3 529.0,429.0 531.2,429.0 533.4,431.4 535.6,431.9 537.8,431.6 540.0,431.6 542.2,431.0 544.4,430.3 546.6,431.6 548.8,430.6 550.0,430.0 552.0,424.0 553.4,399.0 556.0,397.0 557.0,397.8 559.2,398.2 561.4,396.7 563.6,396.7 565.8,398.2 568.0,397.6 570.2,396.1 572.4,396.0 574.6,396.1 576.8,398.1 579.0,397.8 581.2,396.1 583.4,397.8 585.6,398.2 587.8,397.4 590.0,396.6 592.2,397.1 594.4,396.0 596.6,395.7 598.8,398.2 601.0,397.4 603.2,397.1 604.3,397.5 608.0,396.5 611.0,397.5 615.0,398.5 619.0,399.7 623.0,396.5 627.0,397.5 630.0,396.5 634.0,397.5 637.6,397.5 638.2,421.5 639.3,421.5 639.9,398.0 640.6,396.5 641.2,367.8 649.4,367.8 650.0,394.5 651.0,394.0 651.9,382.5 652.8,384.0 653.3,390.3 655.0,390.0 658.0,390.5 661.0,391.0 664.0,391.5 667.0,390.0 670.0,389.5 673.0,390.5 676.0,390.0 679.0,389.5 682.0,390.0 685.0,391.0 688.0,391.5 691.0,390.0 694.0,392.0 697.0,392.5 698.3,392.5 700.0,390.0 703.0,391.0 706.0,389.5 709.0,390.5 712.0,389.5 715.0,390.0 718.0,389.0 720.0,391.0 721.7,396.0 724.0,397.5 727.0,397.0 729.0,396.0 731.0,397.0 734.0,398.0" fill="none" stroke="#706e3c" stroke-width="1.6" stroke-linejoin="round" clip-path="url(#c2)"/>
<rect x="219.90" y="386.50" width="1.80" height="49.50" fill="#706e3c" clip-path="url(#c2)"/>
<rect x="222.10" y="392.00" width="1.30" height="33.00" fill="#706e3c" clip-path="url(#c2)"/>
<rect x="225.10" y="404.00" width="1.60" height="32.00" fill="#706e3c" clip-path="url(#c2)"/>
<path d="M654.5,389.2 L658.3,389.2 L658.1,413.9 L654.7,413.9 Z" fill="#706e3c"/>
<path d="M657.3,389.7 L661.1,389.7 L660.9,410.0 L657.5,410.0 Z" fill="#706e3c"/>
<path d="M666.1,388.8 L669.8,388.8 L669.6,414.9 L666.3,414.9 Z" fill="#706e3c"/>
<path d="M668.8,388.6 L671.7,388.6 L671.5,405.0 L669.0,405.0 Z" fill="#706e3c"/>
<path d="M672.1,389.4 L675.4,389.4 L675.2,418.5 L672.3,418.5 Z" fill="#706e3c"/>
<path d="M675.4,388.9 L678.4,388.9 L678.2,410.5 L675.6,410.5 Z" fill="#706e3c"/>
<path d="M677.7,388.6 L681.7,388.6 L681.5,415.9 L677.9,415.9 Z" fill="#706e3c"/>
<path d="M682.4,389.8 L686.4,389.8 L686.2,409.2 L682.6,409.2 Z" fill="#706e3c"/>
<path d="M690.3,389.8 L694.0,389.8 L693.8,408.6 L690.5,408.6 Z" fill="#706e3c"/>
<path d="M699.6,389.6 L703.9,389.6 L703.7,416.6 L699.8,416.6 Z" fill="#706e3c"/>
<path d="M704.5,388.7 L708.7,388.7 L708.5,416.0 L704.7,416.0 Z" fill="#706e3c"/>
<path d="M710.2,388.5 L714.0,388.5 L713.8,415.3 L710.4,415.3 Z" fill="#706e3c"/>
<path d="M713.0,389.0 L717.0,389.0 L716.8,413.0 L713.2,413.0 Z" fill="#706e3c"/>
<path d="M716.0,388.1 L719.5,388.1 L719.3,416.0 L716.2,416.0 Z" fill="#706e3c"/>
<path d="M718.5,391.0 L722.2,391.0 L722.0,412.0 L718.7,412.0 Z" fill="#706e3c"/>
<path d="M727.9,395.4 L731.5,395.4 L731.3,418.0 L728.1,418.0 Z" fill="#706e3c"/>
<path d="M730.5,396.4 L734.1,396.4 L733.9,410.8 L730.7,410.8 Z" fill="#706e3c"/>
<polyline points="99.5,500.6 101.5,500.6 103.5,500.6 105.5,500.6 107.5,500.6 109.5,500.6 111.5,500.6 113.5,500.6 115.5,500.6 117.5,500.6 119.5,500.6 121.5,500.6 123.5,500.6 125.5,500.6 127.5,500.6 129.5,500.6 131.5,500.6 133.5,500.6 135.5,500.6 137.5,500.6 139.5,500.6 141.5,500.6 143.5,500.6 145.5,500.6 147.5,500.6 149.5,500.6 151.5,500.6 153.5,500.6 155.5,500.6 157.5,500.6 159.5,500.6 161.5,500.6 163.5,500.6 165.5,500.6 167.5,500.6 169.5,500.6 171.5,500.6 173.5,500.6 175.5,500.6 177.5,500.6 179.5,500.6 181.5,500.6 183.5,500.6 185.5,500.6 187.5,500.6 189.5,500.6 191.5,500.6 193.5,500.6 195.5,500.6 197.5,500.6 199.5,500.6 201.5,500.6 203.5,500.6 205.5,500.6 207.5,500.6 209.5,500.6 211.5,500.6 213.5,500.6 215.5,500.6 217.0,500.6 217.5,500.6 218.5,492.0 219.5,489.5 219.8,488.7 220.8,488.6 221.5,488.5 221.8,488.8 222.7,489.7 223.0,490.0 223.5,491.7 224.4,494.7 224.5,495.0 225.3,498.6 225.5,499.5 226.1,500.1 226.7,500.6 227.0,500.6 227.8,500.6 229.0,500.6 230.0,500.6 232.0,500.6 234.0,500.6 236.0,500.6 238.0,500.6 240.0,500.6 242.0,500.6 244.0,500.6 246.0,500.6 248.0,500.6 250.0,500.6 252.0,500.6 253.5,500.6 255.7,500.6 257.9,500.6 260.0,500.6 262.2,500.6 264.4,500.6 266.6,500.6 268.8,500.6 271.0,500.6 273.2,500.6 275.4,500.6 277.6,500.6 279.8,500.6 282.0,500.6 284.2,500.6 286.4,500.6 288.6,500.6 290.8,500.6 293.0,500.6 295.2,500.6 297.4,500.6 299.6,500.6 301.8,500.6 304.0,500.6 306.2,500.6 308.4,500.6 310.6,500.6 312.8,500.6 315.0,500.6 317.2,500.6 319.4,500.6 321.6,500.6 323.8,500.6 326.0,500.6 328.2,500.5 330.4,500.5 332.6,500.5 334.8,500.5 337.0,500.5 339.2,500.5 341.4,500.5 343.6,500.5 345.8,500.5 348.0,500.5 350.2,500.5 352.4,500.5 354.6,500.5 356.8,500.5 359.0,500.5 361.2,500.5 363.4,500.5 365.6,500.5 367.8,500.5 370.0,500.5 372.2,500.5 374.4,500.5 376.6,500.5 378.8,500.5 381.0,500.5 383.2,500.5 385.4,500.5 387.6,500.5 389.8,500.5 392.0,500.5 394.2,500.5 396.4,500.5 398.6,500.5 400.8,500.5 403.0,500.5 405.2,500.5 407.4,500.5 409.6,500.5 411.8,500.5 414.0,500.5 416.2,500.5 418.4,500.5 420.6,500.5 422.8,500.5 425.0,500.5 427.0,500.5 427.2,499.1 428.5,490.0 429.7,488.8 430.0,488.5 431.0,488.8 432.0,489.0 433.0,492.3 433.5,494.0 434.5,498.2 435.0,500.3 436.0,500.3 437.5,500.3 440.0,500.3 441.0,500.3 443.2,500.3 445.4,500.3 447.6,500.3 449.8,500.3 452.0,500.3 454.2,500.3 456.4,500.3 458.6,500.3 460.8,500.3 463.0,500.2 465.2,500.2 467.4,500.2 469.6,500.2 471.8,500.2 474.0,500.2 476.2,500.2 478.4,500.2 480.6,500.2 482.8,500.2 485.0,500.2 487.2,500.2 489.4,500.2 491.6,500.2 493.8,500.2 496.0,500.2 498.2,500.2 500.4,500.2 502.6,500.2 504.8,500.2 507.0,500.2 509.2,500.2 511.4,500.2 513.6,500.2 515.8,500.2 518.0,500.1 520.2,500.1 522.4,500.1 524.6,500.1 526.8,500.1 529.0,500.1 531.2,500.1 533.4,500.1 535.6,500.1 537.8,500.1 540.0,500.1 542.2,500.1 544.4,500.1 546.6,500.1 548.8,500.1 550.0,500.1 552.0,500.1 553.4,500.1 556.0,500.1 557.0,500.1 559.2,500.1 561.4,500.1 563.6,500.1 565.8,500.1 568.0,500.1 570.2,500.1 572.4,500.1 574.6,500.0 576.8,500.0 579.0,500.0 581.2,500.0 583.4,500.0 585.6,500.0 587.8,500.0 590.0,500.0 592.2,500.0 594.4,500.0 596.6,500.0 598.8,500.0 601.0,500.0 603.2,500.0 604.3,500.0 608.0,499.9 611.0,499.9 615.0,499.9 619.0,499.8 623.0,499.8 627.0,499.7 630.0,499.7 634.0,499.7 637.6,499.6 638.2,499.6 639.3,499.6 639.9,499.6 640.3,499.6 640.6,494.7 641.2,485.0 643.0,484.5 646.0,484.5 647.0,486.0 649.0,489.6 649.4,489.7 650.0,490.0 651.0,490.3 651.5,490.5 651.9,493.7 652.5,498.4 652.8,498.6 653.3,498.8 654.0,499.2 655.0,499.2 658.0,499.2 661.0,499.2 664.0,499.2 667.0,499.2 670.0,499.2 673.0,499.2 676.0,499.3 679.0,499.3 682.0,499.3 685.0,499.3 688.0,499.3 691.0,499.3 694.0,499.3 697.0,499.3 698.3,499.3 700.0,499.3 703.0,499.3 706.0,499.3 709.0,499.3 712.0,499.3 715.0,499.4 718.0,499.4 720.0,499.4 721.7,499.4 724.0,499.4 727.0,499.4 729.0,499.4 731.0,499.4 734.0,499.4" fill="none" stroke="#6b6a3a" stroke-width="1.8" stroke-linejoin="round" clip-path="url(#c2)"/>
<rect x="697.90" y="388.00" width="2.50" height="113.50" fill="#f2f3e6"/>
<rect x="273.80" y="440.00" width="1.80" height="61.50" fill="#ffffff"/>
<rect x="435.70" y="440.00" width="1.80" height="61.50" fill="#ffffff"/>
<rect x="446.40" y="440.00" width="1.80" height="61.50" fill="#ffffff"/>
<rect x="98.20" y="366.80" width="1.30" height="136.70" fill="#c0d0e0"/>
<rect x="98.20" y="502.30" width="635.80" height="1.40" fill="#c0d0e0"/>
<rect x="92.30" y="501.90" width="6.70" height="1.20" fill="#c0d0e0"/>
<rect x="92.30" y="467.97" width="6.70" height="1.20" fill="#c0d0e0"/>
<rect x="92.30" y="434.05" width="6.70" height="1.20" fill="#c0d0e0"/>
<rect x="92.30" y="400.12" width="6.70" height="1.20" fill="#c0d0e0"/>
<rect x="92.30" y="366.20" width="6.70" height="1.20" fill="#c0d0e0"/>
<rect x="217.60" y="502.50" width="1.20" height="6.50" fill="#c0d0e0"/>
<rect x="428.90" y="502.50" width="1.20" height="6.50" fill="#c0d0e0"/>
<rect x="640.00" y="502.50" width="1.20" height="6.50" fill="#c0d0e0"/>
<text x="15.20" y="42.20" font-size="20.4" fill="#424242" textLength="178.06" lengthAdjust="spacingAndGlyphs">Perf. Capacity Used</text>
<text x="415.13" y="40.60" font-size="18" fill="#555555" textLength="37.06" lengthAdjust="spacingAndGlyphs">View</text>
<rect x="464.85" y="16.45" width="138.90" height="38.70" rx="0" fill="#fff" stroke="#c9c9c9" stroke-width="1.3"/>
<text x="471.33" y="40.70" font-size="18.4" fill="#444444" textLength="38.81" lengthAdjust="spacingAndGlyphs">Total</text>
<path d="M578.3,33.8 L588.7,33.8 L583.5,38.9 Z" fill="#2a2a2a"/>
<rect x="613.25" y="15.85" width="121.90" height="38.90" rx="0" fill="#fff" stroke="#c9c9c9" stroke-width="1.3"/>
<text x="629.97" y="40.90" font-size="18.1" fill="#444444" textLength="87.59" lengthAdjust="spacingAndGlyphs">Zoom View</text>
<text x="15.19" y="331.10" font-size="20.3" fill="#424242" textLength="298.71" lengthAdjust="spacingAndGlyphs">Perf. Capacity Used (Breakdown)</text>
<text x="415.13" y="329.50" font-size="18" fill="#555555" textLength="37.06" lengthAdjust="spacingAndGlyphs">View</text>
<rect x="464.40" y="305.00" width="139.60" height="39.70" rx="3" fill="#fff" stroke="#74a3dc" stroke-width="1.6"/>
<text x="471.07" y="330.00" font-size="17.8" fill="#444444" textLength="89.46" lengthAdjust="spacingAndGlyphs">Breakdown</text>
<path d="M578.3,322.8 L588.7,322.8 L583.5,327.9 Z" fill="#2a2a2a"/>
<rect x="613.25" y="303.65" width="121.90" height="40.70" rx="0" fill="#fff" stroke="#c9c9c9" stroke-width="1.3"/>
<text x="629.97" y="329.60" font-size="18.1" fill="#444444" textLength="87.59" lengthAdjust="spacingAndGlyphs">Zoom View</text>
<text x="69.45" y="219.10" font-size="16" fill="#555555" textLength="9.79" lengthAdjust="spacingAndGlyphs">0</text>
<text x="59.77" y="185.32" font-size="16" fill="#555555" textLength="19.58" lengthAdjust="spacingAndGlyphs">50</text>
<text x="49.91" y="151.55" font-size="16" fill="#555555" textLength="29.37" lengthAdjust="spacingAndGlyphs">100</text>
<text x="49.91" y="117.78" font-size="16" fill="#555555" textLength="29.37" lengthAdjust="spacingAndGlyphs">150</text>
<text x="49.91" y="84.00" font-size="16" fill="#555555" textLength="29.37" lengthAdjust="spacingAndGlyphs">200</text>
<text x="94.37" y="76.30" font-size="16.5" fill="#555555" textLength="13.94" lengthAdjust="spacingAndGlyphs">%</text>
<text x="69.45" y="507.90" font-size="16" fill="#555555" textLength="9.79" lengthAdjust="spacingAndGlyphs">0</text>
<text x="59.77" y="474.03" font-size="16" fill="#555555" textLength="19.58" lengthAdjust="spacingAndGlyphs">50</text>
<text x="49.91" y="440.15" font-size="16" fill="#555555" textLength="29.37" lengthAdjust="spacingAndGlyphs">100</text>
<text x="49.91" y="406.28" font-size="16" fill="#555555" textLength="29.37" lengthAdjust="spacingAndGlyphs">150</text>
<text x="49.91" y="372.40" font-size="16" fill="#555555" textLength="29.37" lengthAdjust="spacingAndGlyphs">200</text>
<text x="94.37" y="365.20" font-size="16.5" fill="#555555" textLength="13.94" lengthAdjust="spacingAndGlyphs">%</text>
<text x="178.63" y="238.80" font-size="16" fill="#555555" textLength="79.64" lengthAdjust="spacingAndGlyphs">Sun 08/27</text>
<text x="195.14" y="258.80" font-size="16.2" fill="#555555" textLength="48.21" lengthAdjust="spacingAndGlyphs">12 AM</text>
<text x="389.90" y="238.80" font-size="16" fill="#555555" textLength="80.03" lengthAdjust="spacingAndGlyphs">Mon 08/28</text>
<text x="405.94" y="258.80" font-size="16.2" fill="#555555" textLength="48.21" lengthAdjust="spacingAndGlyphs">12 AM</text>
<text x="602.40" y="238.80" font-size="16" fill="#555555" textLength="79.08" lengthAdjust="spacingAndGlyphs">Tue 08/29</text>
<text x="618.24" y="258.80" font-size="16.2" fill="#555555" textLength="48.21" lengthAdjust="spacingAndGlyphs">12 AM</text>
<text x="178.63" y="527.80" font-size="16" fill="#555555" textLength="79.64" lengthAdjust="spacingAndGlyphs">Sun 08/27</text>
<text x="195.14" y="547.80" font-size="16.2" fill="#555555" textLength="48.21" lengthAdjust="spacingAndGlyphs">12 AM</text>
<text x="389.90" y="527.80" font-size="16" fill="#555555" textLength="80.03" lengthAdjust="spacingAndGlyphs">Mon 08/28</text>
<text x="405.94" y="547.80" font-size="16.2" fill="#555555" textLength="48.21" lengthAdjust="spacingAndGlyphs">12 AM</text>
<text x="602.40" y="527.80" font-size="16" fill="#555555" textLength="79.08" lengthAdjust="spacingAndGlyphs">Tue 08/29</text>
<text x="618.24" y="547.80" font-size="16.2" fill="#555555" textLength="48.21" lengthAdjust="spacingAndGlyphs">12 AM</text>
<rect x="259.60" y="125.00" width="350.60" height="163.60" fill="#ffffff" fill-opacity="0.75"/>
<rect x="259.60" y="77.20" width="350.60" height="47.80" fill="#edf6f5"/>
<rect x="259.60" y="77.20" width="350.60" height="211.40" fill="none" stroke="#cdcdcd" stroke-width="1.4"/>
<text x="275.68" y="110.40" font-size="16.5" font-weight="bold" fill="#1c1c28" textLength="298.66" lengthAdjust="spacingAndGlyphs">Perf. Capacity Used – Total view (%)</text>
<rect x="275.60" y="153.60" width="33.00" height="14.40" fill="#175f8d" stroke="#104d76" stroke-width="1.2"/>
<text x="326.41" y="166.30" font-size="17.6" fill="#2b2b2b" textLength="154.37" lengthAdjust="spacingAndGlyphs">opm-simplicity-02</text>
<text x="564.87" y="166.30" font-size="17.6" fill="#2b2b2b" textLength="31.85" lengthAdjust="spacingAndGlyphs">126</text>
<rect x="275.60" y="196.20" width="33.00" height="15.30" fill="#935f93" stroke="#8a578a" stroke-width="1.2"/>
<text x="326.41" y="210.00" font-size="17.6" fill="#2b2b2b" textLength="154.37" lengthAdjust="spacingAndGlyphs">opm-simplicity-01</text>
<text x="559.08" y="210.00" font-size="17.6" fill="#2b2b2b" textLength="35.06" lengthAdjust="spacingAndGlyphs">34.1</text>
<text x="275.79" y="267.80" font-size="18.8" fill="#2b2b2b" textLength="202.07" lengthAdjust="spacingAndGlyphs">12:50 AM, Aug 27, 2017</text>
<rect x="253.90" y="440.00" width="350.10" height="251.00" fill="#ffffff" fill-opacity="0.75"/>
<rect x="253.90" y="366.40" width="350.10" height="73.60" fill="#edf6f5"/>
<rect x="253.90" y="366.40" width="350.10" height="324.60" fill="none" stroke="#cdcdcd" stroke-width="1.4"/>
<text x="268.58" y="399.70" font-size="16.5" font-weight="bold" fill="#1c1c28" textLength="320.23" lengthAdjust="spacingAndGlyphs">Perf. Capacity Used – Breakdown view</text>
<text x="268.54" y="426.00" font-size="16.5" font-weight="bold" fill="#1c1c28" textLength="23.76" lengthAdjust="spacingAndGlyphs">(%)</text>
<text x="269.25" y="481.40" font-size="17" font-weight="bold" fill="#1c1c28" textLength="160.25" lengthAdjust="spacingAndGlyphs">opm-simplicity-02</text>
<text x="557.10" y="481.10" font-size="18" font-weight="bold" fill="#1c1c28" textLength="33.27" lengthAdjust="spacingAndGlyphs">128</text>
<rect x="286.80" y="511.80" width="31.20" height="15.60" fill="#d0d0d2" stroke="#b3bcc8" stroke-width="1.2"/>
<rect x="286.80" y="555.20" width="31.20" height="15.70" fill="#d0cc99" stroke="#c9c79c" stroke-width="1.2"/>
<rect x="286.80" y="598.90" width="31.20" height="15.90" fill="#8e8d5b" stroke="#8a8858" stroke-width="1.2"/>
<text x="335.79" y="525.40" font-size="17.6" fill="#2b2b2b" textLength="151.99" lengthAdjust="spacingAndGlyphs">Perf. Capacity Free</text>
<text x="335.77" y="568.80" font-size="17.6" fill="#2b2b2b" textLength="117.51" lengthAdjust="spacingAndGlyphs">User Protocols</text>
<text x="335.75" y="611.80" font-size="17.6" fill="#2b2b2b" textLength="96.56" lengthAdjust="spacingAndGlyphs">Background</text>
<text x="577.76" y="525.40" font-size="17.6" fill="#2b2b2b" textLength="10.31" lengthAdjust="spacingAndGlyphs">0</text>
<text x="556.07" y="568.80" font-size="17.6" fill="#2b2b2b" textLength="32.43" lengthAdjust="spacingAndGlyphs">117</text>
<text x="550.67" y="611.80" font-size="17.6" fill="#2b2b2b" textLength="38.19" lengthAdjust="spacingAndGlyphs">11.8</text>
<text x="269.19" y="668.80" font-size="18.8" fill="#2b2b2b" textLength="201.77" lengthAdjust="spacingAndGlyphs">12:04 AM, Aug 27, 2017</text>
</svg>
</body></html>
